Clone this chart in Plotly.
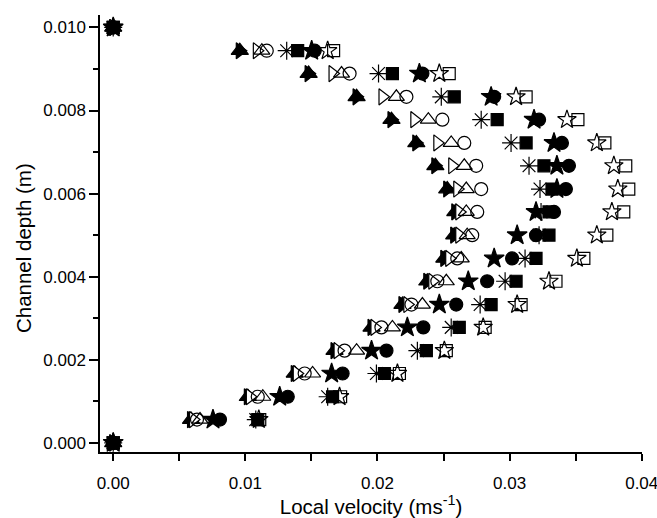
import plotly.graph_objects as go

# Channel depth (m) of each measuring row
depth = [0.0, 0.00056, 0.00111, 0.00167, 0.00222, 0.00278, 0.00333, 0.00389, 0.00444,
         0.00500, 0.00556, 0.00611, 0.00667, 0.00722, 0.00778, 0.00833, 0.00889, 0.00944, 0.010]

# Local velocity (m/s) per series
v_fill_right = [0, 0.00589, 0.01019, 0.01374, 0.01675, 0.01955, 0.02189, 0.02377, 0.02506,
                0.02581, 0.02589, 0.02528, 0.02438, 0.02294, 0.02106, 0.01842, 0.01479, 0.00958, 0]
v_fill_up = [0, 0.00589, 0.01019, 0.01374, 0.01675, 0.01955, 0.02189, 0.02377, 0.02506,
             0.02581, 0.02589, 0.02528, 0.02438, 0.02294, 0.02106, 0.01842, 0.01479, 0.00958, 0]
v_open_right = [0, 0.00604, 0.01034, 0.01389, 0.01698, 0.01977, 0.02226, 0.02415, 0.02543,
                0.02619, 0.02619, 0.02604, 0.02566, 0.02453, 0.02279, 0.02038, 0.01660, 0.01087, 0]
v_open_circle = [0, 0.00634, 0.01094, 0.01449, 0.01751, 0.02030, 0.02257, 0.02453, 0.02604,
                 0.02717, 0.02755, 0.02785, 0.02747, 0.02657, 0.02491, 0.02219, 0.01789, 0.01162, 0]
v_open_up = [0, 0.00657, 0.01132, 0.01509, 0.01842, 0.02113, 0.02340, 0.02521, 0.02634,
             0.02679, 0.02672, 0.02672, 0.02657, 0.02558, 0.02385, 0.02143, 0.01728, 0.01125, 0]
v_asterisk = [0, 0.01079, 0.01623, 0.01992, 0.02302, 0.02558, 0.02777, 0.02966, 0.03117,
              0.03223, 0.03238, 0.03230, 0.03147, 0.03011, 0.02785, 0.02483, 0.02008, 0.01313, 0]
v_fill_square = [0, 0.01094, 0.01660, 0.02053, 0.02370, 0.02619, 0.02860, 0.03049, 0.03200,
                 0.03298, 0.03298, 0.03321, 0.03260, 0.03125, 0.02906, 0.02581, 0.02113, 0.01396, 0]
v_fill_star = [0, 0.00755, 0.01260, 0.01653, 0.01955, 0.02226, 0.02468, 0.02687, 0.02883,
               0.03057, 0.03200, 0.03358, 0.03358, 0.03336, 0.03185, 0.02860, 0.02317, 0.01502, 0]
v_fill_circle = [0, 0.00808, 0.01321, 0.01736, 0.02068, 0.02347, 0.02596, 0.02830, 0.03019,
                 0.03200, 0.03336, 0.03426, 0.03449, 0.03396, 0.03223, 0.02883, 0.02340, 0.01525, 0]
v_open_star = [0, 0.01102, 0.01713, 0.02151, 0.02506, 0.02800, 0.03057, 0.03298, 0.03509,
               0.03660, 0.03774, 0.03819, 0.03789, 0.03660, 0.03434, 0.03049, 0.02468, 0.01623, 0]
v_open_square = [0, 0.01109, 0.01721, 0.02166, 0.02521, 0.02815, 0.03087, 0.03351, 0.03562,
                 0.03736, 0.03864, 0.03902, 0.03879, 0.03721, 0.03517, 0.03125, 0.02543, 0.01668, 0]

x_ticks = [0.00, 0.01, 0.02, 0.03, 0.04]
x_labels = ["0.00", "0.01", "0.02", "0.03", "0.04"]
y_ticks = [0.000, 0.002, 0.004, 0.006, 0.008, 0.010]
y_labels = ["0.000", "0.002", "0.004", "0.006", "0.008", "0.010"]

# (values, symbol, fill colour, size)
series = [
    (v_fill_right, "triangle-right", "black", 14),
    (v_fill_up, "triangle-up", "black", 15),
    (v_open_right, "triangle-right", "white", 14),
    (v_open_circle, "circle-open", "black", 13),
    (v_open_up, "triangle-up-open", "black", 14),
    (v_asterisk, "asterisk-open", "black", 15),
    (v_fill_square, "square", "black", 12),
    (v_fill_star, "star", "black", 15),
    (v_fill_circle, "circle", "black", 13),
    (v_open_star, "star-open", "black", 14),
    (v_open_square, "square-open", "black", 12),
]

fig = go.Figure()
for vals, sym, col, size in series:
    fig.add_trace(go.Scatter(
        x=vals, y=depth, mode="markers", showlegend=False, cliponaxis=False,
        marker=dict(symbol=sym, size=size, color=col,
                    line=dict(color="black", width=1.2)),
    ))

font = "Liberation Sans, Arial, sans-serif"
fig.update_layout(
    width=657, height=518,
    margin=dict(l=100, r=15, t=15, b=66),
    paper_bgcolor="white", plot_bgcolor="white",
    font=dict(family=font, color="black", size=17),
    annotations=[dict(
        text="Channel depth (m)", xref="paper", yref="paper",
        x=-0.140, y=0.467, xanchor="center", yanchor="middle",
        textangle=-90, showarrow=False, font=dict(size=20.5),
    )],
)
fig.update_xaxes(
    range=[-0.001, 0.04002], showgrid=False, zeroline=False, automargin=False,
    showline=True, linecolor="black", linewidth=1.5,
    ticks="outside", ticklen=7, tickwidth=1.5, tickcolor="black",
    tickvals=x_ticks, ticktext=x_labels, ticklabelstandoff=8,
    ticklabeloverflow="allow",
    minor=dict(dtick=0.005, tick0=0, ticks="outside", ticklen=7, tickwidth=1.5, tickcolor="black"),
    title=dict(text="Local velocity (ms<sup>-1</sup>)", font=dict(size=20.5), standoff=9),
)
fig.update_yaxes(
    range=[-0.00022, 0.0103], showgrid=False, zeroline=False, automargin=False,
    showline=True, linecolor="black", linewidth=1.5,
    ticks="outside", ticklen=9, tickwidth=1.5, tickcolor="black",
    tickvals=y_ticks, ticktext=y_labels,
    minor=dict(dtick=0.001, tick0=0, ticks="outside", ticklen=5, tickwidth=1.5, tickcolor="black"),
)

fig.write_html(
    "out.html",
    config={"displayModeBar": False},
    post_script="document.body.style.margin='0';document.body.style.overflow='hidden';",
)
